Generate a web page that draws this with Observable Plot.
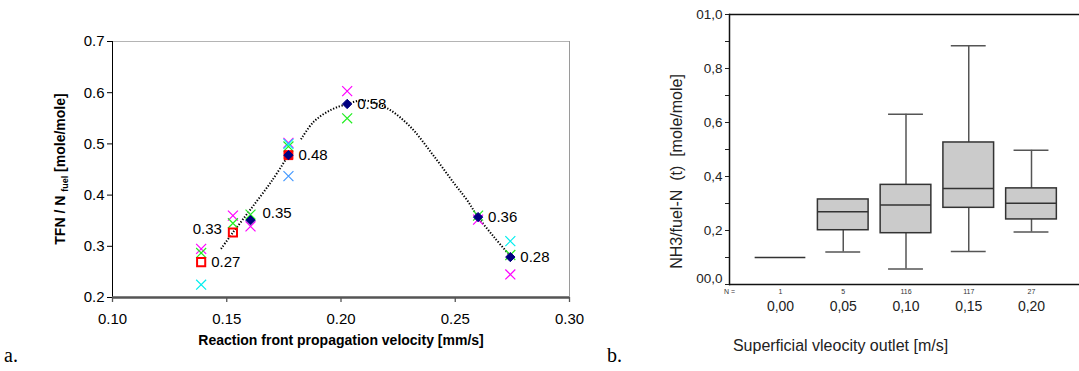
<!DOCTYPE html>
<html><head><meta charset="utf-8">
<script src="https://cdn.jsdelivr.net/npm/d3@7"></script>
<script src="https://cdn.jsdelivr.net/npm/@observablehq/plot@0.6"></script>
<style>
body{margin:0;background:#fff;overflow:hidden}
#wrap{position:relative;width:1079px;height:371px;font-family:"Liberation Sans",Arial,sans-serif}
#wrap svg{position:absolute;top:0;overflow:visible}
.tag{position:absolute;font-family:"Liberation Serif","Times New Roman",serif;font-size:20px;color:#000;line-height:1}
</style></head><body>
<div id="wrap">
<div class="tag" style="left:4px;top:345px">a.</div>
<div class="tag" style="left:607px;top:345px">b.</div>
</div>
<script>
// ---------- Panel a data ----------
const velocity   = [0.1388, 0.1527, 0.1604, 0.1770, 0.2027, 0.2600, 0.2741];
const magentaRun = [0.295, 0.360, 0.339, 0.502, 0.603, 0.352, 0.245];
const greenRun   = [0.287, 0.345, 0.362, 0.495, 0.550, 0.360, 0.283];
const cyanRun    = [0.225, null, null, 0.500, null, null, 0.310];
const blueRun    = [null, null, null, 0.437, null, null, null];
const meanDiamond = [null, null, 0.351, 0.478, 0.578, 0.357, 0.279];
const squareOpen  = [0.269, 0.327, null, null, null, null, null];
const squareFilled = [null, null, null, 0.478, null, null, null];
const meanLabels = ["0.27", "0.33", "0.35", "0.48", "0.58", "0.36", "0.28"];
const meanValues = [0.269, 0.327, 0.351, 0.478, 0.578, 0.357, 0.279];
const trendRiseX = [0.1475, 0.1527, 0.1604, 0.1699, 0.1770];
const trendRiseY = [0.295, 0.327, 0.372, 0.429, 0.478];
const trendFallX = [0.1825, 0.1880, 0.1954, 0.2027, 0.2100, 0.2200, 0.2300, 0.2400, 0.2500, 0.2552, 0.2600, 0.2670, 0.2745];
const trendFallY = [0.509, 0.543, 0.566, 0.578, 0.585, 0.570, 0.535, 0.480, 0.420, 0.390, 0.357, 0.318, 0.279];
const xTicksA = [0.10, 0.15, 0.20, 0.25, 0.30];
const yTicksA = [0.2, 0.3, 0.4, 0.5, 0.6, 0.7];

// ---------- Panel b data ----------
const outletVelocity = [0.00, 0.05, 0.10, 0.15, 0.20];
const outletLabels = ["0,00", "0,05", "0,10", "0,15", "0,20"];
const counts = [1, 5, 116, 117, 27];
const whiskerLow  = [0.100, 0.120, 0.057, 0.122, 0.194];
const quart1      = [0.100, 0.201, 0.190, 0.284, 0.241];
const medianVal   = [0.100, 0.269, 0.294, 0.356, 0.301];
const quart3      = [0.100, 0.315, 0.369, 0.526, 0.356];
const whiskerHigh = [0.100, 0.315, 0.631, 0.884, 0.497];
const yTicksB = [0, 0.2, 0.4, 0.6, 0.8, 1.0];
const yTickLabelsB = ["00,0", "0,2", "0,4", "0,6", "0,8", "01,0"];
const yMinorB = [0.1, 0.3, 0.5, 0.7, 0.9];

// ---------- build rows ----------
const crossRows = [];
[[magentaRun, "#ff00ff"], [greenRun, "#22ee22"], [cyanRun, "#00eeee"], [blueRun, "#4499ff"]].forEach(([arr, c]) => {
  arr.forEach((v, i) => { if (v != null) crossRows.push({x: velocity[i], y: v, c}); });
});
const pick = arr => arr.map((v, i) => ({x: velocity[i], y: v})).filter(d => d.y != null);
const diamondRows = pick(meanDiamond);
const openRows = pick(squareOpen);
const filledRows = pick(squareFilled);
const labelRows = meanLabels.map((t, i) => ({x: velocity[i], y: meanValues[i], t}));
const riseRows = trendRiseX.map((x, i) => ({x, y: trendRiseY[i]}));
const fallRows = trendFallX.map((x, i) => ({x, y: trendFallY[i]}));

const font = "Liberation Sans, Arial, sans-serif";
const dotted = {curve: "catmull-rom", stroke: "#000", strokeWidth: 2, strokeDasharray: "1.3 1.7", strokeLinecap: "butt"};

const left = Plot.plot({
  width: 600, height: 371,
  marginLeft: 112, marginRight: 31, marginTop: 41, marginBottom: 74,
  style: {fontFamily: font, fontSize: "15px", color: "#000", background: "transparent", overflow: "visible"},
  x: {domain: [0.10, 0.30]},
  y: {domain: [0.2, 0.7]},
  color: {type: "identity"},
  marks: [
    Plot.ruleY([0.7], {stroke: "#b4b4b4", strokeWidth: 1}),
    Plot.ruleX([0.30], {stroke: "#9a9a9a", strokeWidth: 1}),
    Plot.ruleX([0.10], {stroke: "#000", strokeWidth: 1}),
    Plot.axisY({ticks: yTicksA, tickFormat: ".1f", tickSize: 5, tickPadding: 3, fontSize: 15, label: null, color: "#000"}),
    Plot.axisX({ticks: xTicksA, tickFormat: ".2f", tickSize: 5, tickPadding: 11, fontSize: 15, label: null, stroke: "#555", fill: "#000", strokeWidth: 1.3}),
    Plot.ruleY([0.2], {stroke: "#555", strokeWidth: 2.5}),
    Plot.line(riseRows, {x: "x", y: "y", ...dotted}),
    Plot.line(fallRows, {x: "x", y: "y", ...dotted}),
    Plot.dot(crossRows, {x: "x", y: "y", symbol: "times", r: 4.6, stroke: "c", strokeWidth: 1.2}),
    Plot.dot(openRows, {x: "x", y: "y", symbol: "square", r: 4.6, stroke: "#ff0000", strokeWidth: 2, fill: "none"}),
    Plot.dot(filledRows, {x: "x", y: "y", symbol: "square", r: 5, fill: "#ff0000", stroke: "#ff0000", strokeWidth: 1}),
    Plot.dot(diamondRows, {x: "x", y: "y", symbol: "diamond2", r: 4.2, fill: "#000080", stroke: "#000080", strokeWidth: 1}),
    Plot.text(labelRows.filter(d => d.t !== "0.33" && d.t !== "0.35"), {x: "x", y: "y", text: "t", textAnchor: "start", dx: 10, fontSize: 15}),
    Plot.text(labelRows.filter(d => d.t === "0.35"), {x: "x", y: "y", text: "t", textAnchor: "start", dx: 12, dy: -7, fontSize: 15}),
    Plot.text(labelRows.filter(d => d.t === "0.33"), {x: "x", y: "y", text: "t", textAnchor: "end", dx: -11, dy: -3, fontSize: 15}),
    Plot.text(["Reaction front propagation velocity [mm/s]"], {frameAnchor: "bottom", dy: 47, fontSize: 14, fontWeight: "bold"})
  ]
});
left.style.left = "0px";
const tl = d3.select(left).append("text")
  .attr("transform", "translate(65,169) rotate(-90)")
  .attr("text-anchor", "middle").attr("font-weight", "bold").attr("font-size", 14)
  .attr("font-family", font).attr("fill", "#000");
tl.append("tspan").text("TFN / N ");
tl.append("tspan").attr("font-size", 9).attr("dy", 3).text("fuel");
tl.append("tspan").attr("dy", -3).text(" [mole/mole]");
document.getElementById("wrap").appendChild(left);

// ---------- Panel b ----------
const boxRows = outletVelocity.map((v, i) => ({
  v, label: outletLabels[i], n: counts[i], lo: whiskerLow[i], q1: quart1[i], med: medianVal[i], q3: quart3[i], hi: whiskerHigh[i]
}));
const hw = 0.0202, cw = 0.0139;
const multi = boxRows.filter(d => d.n > 1);

const right = Plot.plot({
  width: 479, height: 371,
  marginLeft: 129, marginRight: 0, marginTop: 14, marginBottom: 87,
  style: {fontFamily: font, fontSize: "13px", color: "#222", background: "transparent", overflow: "visible"},
  x: {domain: [0, 0.2], range: [180, 431], axis: null},
  y: {domain: [0, 1]},
  marks: [
    Plot.axisY({ticks: yTicksB.slice(1), tickFormat: d => yTickLabelsB[yTicksB.indexOf(d)], tickSize: 4, tickPadding: 3, fontSize: 13.5, label: null, color: "#222"}),
    Plot.axisY({ticks: yMinorB.concat([0]), tickFormat: () => "", tickSize: 4, label: null, color: "#222"}),
    Plot.text([yTickLabelsB[0]], {y: [0], frameAnchor: "left", textAnchor: "end", dx: -7, dy: -6, fontSize: 13.5, fill: "#222"}),
    Plot.frame({anchor: "left", stroke: "#111", strokeWidth: 1.5}),
    Plot.ruleY([1], {stroke: "#111", strokeWidth: 1.5}),
    Plot.ruleY([0], {stroke: "#111", strokeWidth: 1.5}),
    Plot.ruleX(multi, {x: "v", y1: "q3", y2: "hi", stroke: "#555", strokeWidth: 1.5}),
    Plot.ruleX(multi, {x: "v", y1: "lo", y2: "q1", stroke: "#555", strokeWidth: 1.5}),
    Plot.ruleY(multi.filter(d => d.hi > d.q3), {y: "hi", x1: d => d.v - cw, x2: d => d.v + cw, stroke: "#555", strokeWidth: 1.5}),
    Plot.ruleY(multi, {y: "lo", x1: d => d.v - cw, x2: d => d.v + cw, stroke: "#555", strokeWidth: 1.5}),
    Plot.rect(multi, {x1: d => d.v - hw, x2: d => d.v + hw, y1: "q1", y2: "q3", fill: "#cbcbcb", stroke: "#333", strokeWidth: 1.5}),
    Plot.ruleY(boxRows, {y: "med", x1: d => d.v - hw, x2: d => d.v + hw, stroke: "#333", strokeWidth: 1.5}),
    Plot.text(["N ="], {frameAnchor: "bottom-left", textAnchor: "middle", dy: 9, fontSize: 7, fill: "#333"}),
    Plot.text(boxRows, {x: "v", text: d => String(d.n), frameAnchor: "bottom", dy: 9, fontSize: 7, fill: "#333"}),
    Plot.text(boxRows, {x: "v", text: "label", frameAnchor: "bottom", dy: 26, fontSize: 14, fill: "#222"}),
    Plot.text(["Superficial vleocity outlet [m/s]"], {frameAnchor: "bottom-left", textAnchor: "middle", dx: 111, dy: 66, fontSize: 16, fill: "#222"}),
    Plot.text(["NH3/fuel-N  (t)  [mole/mole]"], {frameAnchor: "left", textAnchor: "middle", dx: -53, dy: 22, rotate: -90, fontSize: 16, fill: "#222"})
  ]
});
right.style.left = "600px";
document.getElementById("wrap").appendChild(right);
</script></body></html>
